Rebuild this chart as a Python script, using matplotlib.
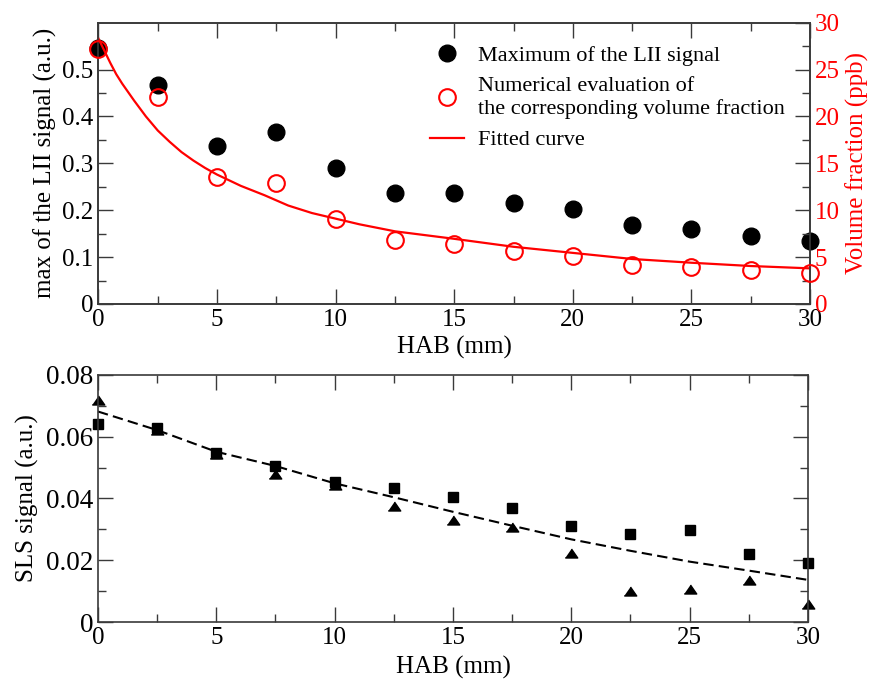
import numpy as np
import matplotlib
matplotlib.use("Agg")
from matplotlib import pyplot as plt
from matplotlib.lines import Line2D

params = {
    'font.family': 'serif',
    'font.serif': ['Liberation Serif', 'DejaVu Serif'],
    'font.size': 18,
    'axes.labelsize': 18,
    'xtick.labelsize': 18,
    'ytick.labelsize': 18,
    'legend.fontsize': 16,
}
matplotlib.rcParams.update(params)

# ---- data -------------------------------------------------------
hab = [0, 2.5, 5, 7.5, 10, 12.5, 15, 17.5, 20, 22.5, 25, 27.5, 30]

lii_max = [0.545, 0.467, 0.337, 0.366, 0.290, 0.236, 0.236,
           0.215, 0.202, 0.168, 0.160, 0.146, 0.135]
vol_frac = [27.2, 22.1, 13.5, 12.9, 9.1, 6.8, 6.4,
            5.6, 5.1, 4.2, 3.9, 3.6, 3.3]

# fitted curve
fit_x = [0, 0.25, 0.5, 0.75, 1, 1.5, 2, 2.5, 3, 3.5, 4, 4.5, 5, 6, 7, 8,
         9, 10, 11, 12.5, 15, 17.5, 20, 22.5, 25, 27.5, 30]
fit_y = [28.3, 27.0, 25.7, 24.5, 23.5, 21.7, 20.0, 18.5, 17.3, 16.2, 15.3,
         14.5, 13.8, 12.6, 11.6, 10.5, 9.7, 9.1, 8.5, 7.75, 6.95, 6.1,
         5.45, 4.8, 4.4, 4.05, 3.8]

sls_sq = [0.0640, 0.0627, 0.0546, 0.0505, 0.0454, 0.0433, 0.0405,
          0.0370, 0.0312, 0.0284, 0.0299, 0.0222, 0.0193]
sls_tri = [0.0717, 0.0622, 0.0545, 0.0480, 0.0445, 0.0376, 0.0331,
           0.0308, 0.0223, 0.0100, 0.0109, 0.0137, 0.0059]
sls_fit = [0.0681, 0.0621, 0.0551, 0.0505, 0.0449, 0.0404, 0.0357,
           0.0312, 0.0268, 0.0231, 0.0196, 0.0167, 0.0137]

left_ticks = [0, 0.1, 0.2, 0.3, 0.4, 0.5]
left_labels = ["0", "0.1", "0.2", "0.3", "0.4", "0.5"]
right_ticks = [0, 5, 10, 15, 20, 25, 30]
sls_ticks = [0, 0.02, 0.04, 0.06, 0.08]
sls_labels = ["0", "0.02", "0.04", "0.06", "0.08"]

spine_col = '#3a3a3a'
tri = [(-1, -0.72), (1, -0.72), (0, 0.72)]


def style_ticks(a):
    a.tick_params(which='major', direction='in', length=11, width=1.0,
                  color=spine_col)
    a.tick_params(which='minor', direction='in', length=6, width=1.0,
                  color=spine_col)
    for s in a.spines.values():
        s.set_color(spine_col)
        s.set_linewidth(1.2)


fig = plt.figure(figsize=(8.73, 6.79), dpi=100)

# ---- top panel --------------------------------------------------
ax = fig.add_axes([0.1128, 0.5523, 0.8150, 0.4143])
ax.plot(hab, lii_max, 'o', color='k', markersize=12, zorder=3)
ax.set_xlim(0, 30)
ax.set_ylim(0, 0.6)
ax.set_xticks([0, 5, 10, 15, 20, 25, 30])
ax.set_xticks(np.arange(0, 30.1, 2.5), minor=True)
ax.set_yticks(left_ticks)
ax.set_yticklabels(left_labels)
ax.set_yticks(np.arange(0, 0.56, 0.05), minor=True)
ax.set_xlabel("HAB (mm)", labelpad=4)
ax.set_ylabel("max of the LII signal (a.u.)")
style_ticks(ax)
ax.tick_params(axis='x', which='both', top=True)
ax.tick_params(axis='y', which='both', right=False)

ax2 = ax.twinx()
ax2.plot(hab, vol_frac, 'o', markerfacecolor='none', markeredgecolor='red',
         markeredgewidth=1.5, markersize=12, zorder=3)
ax2.plot(fit_x, fit_y, '-', color='red', linewidth=1.6)
ax2.set_ylim(0, 30)
ax2.set_yticks(right_ticks)
ax2.set_yticks(np.arange(0, 30.1, 2.5), minor=True)
ax2.set_ylabel("Volume fraction (ppb)", color='red')
style_ticks(ax2)
ax2.tick_params(axis='y', which='both', labelcolor='red')

handles = [
    Line2D([], [], linestyle='none', marker='o', color='k', markersize=12),
    Line2D([], [], linestyle='none', marker='o', markerfacecolor='none',
           markeredgecolor='red', markeredgewidth=1.5, markersize=12),
    Line2D([], [], color='red', linewidth=1.6),
]
labels = ["Maximum of the LII signal",
          "Numerical evaluation of\nthe corresponding volume fraction",
          "Fitted curve"]
ax2.legend(handles, labels, loc='upper left', bbox_to_anchor=(0.454, 0.952),
           frameon=False, handlelength=1.5, handletextpad=0.65,
           labelspacing=0.5, borderaxespad=0)

# ---- bottom panel -----------------------------------------------
bx = fig.add_axes([0.1122, 0.0835, 0.8133, 0.3647])
bx.plot(hab, sls_fit, color='k', linewidth=1.5, linestyle=(0, (5, 2.5)))
bx.plot(hab, sls_tri, linestyle='none', marker=tri, color='k', markersize=9)
bx.plot(hab, sls_sq, 's', color='k', markersize=7.5)
bx.set_xlim(0, 30)
bx.set_ylim(0, 0.08)
bx.set_xticks([0, 5, 10, 15, 20, 25, 30])
bx.set_xticks(np.arange(0, 30.1, 2.5), minor=True)
bx.set_yticks(sls_ticks)
bx.set_yticklabels(sls_labels)
bx.set_yticks(np.arange(0, 0.081, 0.01), minor=True)
bx.set_xlabel("HAB (mm)", labelpad=5)
bx.set_ylabel("SLS signal (a.u.)", labelpad=5)
style_ticks(bx)
bx.tick_params(which='both', top=True, right=True)
bx.tick_params(axis='y', labelsize=19.5)

for a in (ax, ax2, bx):
    for c in a.get_children():
        if isinstance(c, Line2D):
            c.set_clip_on(False)

fig.savefig("out.png", dpi=100)
